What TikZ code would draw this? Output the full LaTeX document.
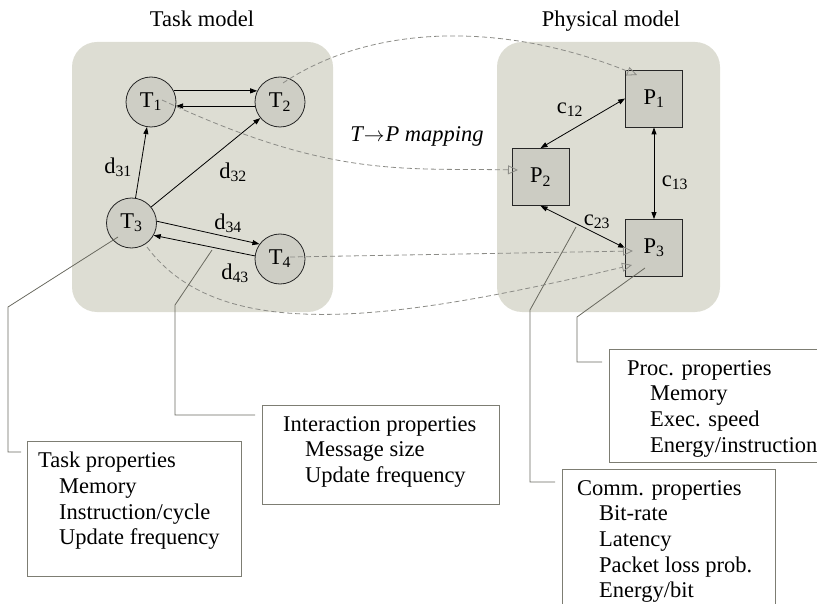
\documentclass[tikz,border=0pt]{standalone}
\usepackage{fontspec}
\setmainfont{Liberation Serif}
\usetikzlibrary{arrows.meta}
\definecolor{bgc}{RGB}{221,221,211}
\definecolor{nodec}{RGB}{206,206,197}
\definecolor{sqc}{RGB}{204,204,195}
\definecolor{dashc}{RGB}{140,140,135}
\definecolor{callc}{RGB}{105,105,95}
\definecolor{boxc}{RGB}{125,125,115}
\begin{document}
\begin{tikzpicture}[x=1pt,y=-1pt,
  every node/.style={font=\fontsize{22.5}{25.7}\selectfont},
  panel/.style={fill=bgc, draw=none, rounded corners=25pt},
  task/.style={circle, draw=black!85, fill=nodec, line width=0.8pt, minimum size=50pt, inner sep=0pt},
  proc/.style={rectangle, draw=black!85, fill=sqc, line width=0.8pt, minimum size=57pt, inner sep=0pt},
  link/.style={line width=0.8pt, -{Triangle[length=7pt,width=5pt]}},
  blink/.style={line width=0.8pt, {Triangle[length=7pt,width=5pt]}-{Triangle[length=7pt,width=5pt]}},
  mapping/.style={dashc, line width=0.8pt, dash pattern=on 5pt off 3pt, -{Triangle[open,length=10pt,width=9pt]}},
  callout/.style={callc, line width=0.8pt},
  propbox/.style={draw=boxc, line width=1.2pt, fill=white, inner sep=0pt, anchor=north west},
  proptext/.style={anchor=north west, align=left, inner sep=0pt},
]
\useasboundingbox (0,0) rectangle (817,604);

% panels
\fill[panel] (72,42) rectangle (333,312);
\fill[panel] (497,42) rectangle (720,312);

% titles
\node[anchor=base] (tasktitle) at (202,27) {Task model};
\node[anchor=base] (phystitle) at (611,27) {Physical model};

% task nodes
\node[task] (T1) at (151,102) {T\textsubscript{1}};
\node[task] (T2) at (280,102) {T\textsubscript{2}};
\node[task] (T3) at (131.5,223) {T\textsubscript{3}};
\node[task] (T4) at (280,259) {T\textsubscript{4}};

% processor nodes
\node[proc] (P1) at (654,98.5) {P\textsubscript{1}};
\node[proc] (P2) at (540.5,177) {P\textsubscript{2}};
\node[proc] (P3) at (654,248) {P\textsubscript{3}};

% task links
\draw[link] (T1.26) -- (T2.154);
\draw[link] (T2.189) -- (T1.-9);
\draw[link] (T3) -- (T1);
\draw[link] (T3) -- (T2);
\draw[link] (T3.4) -- (T4.144);
\draw[link] (T4.173) -- (T3.-29);

\node (d31) at (118,167) {d\textsubscript{31}};
\node (d32) at (233,172) {d\textsubscript{32}};
\node (d34) at (228,223) {d\textsubscript{34}};
\node (d43) at (235,273) {d\textsubscript{43}};

% processor links
\draw[blink] (P1.west) -- (P2.north);
\draw[blink] (P1.south) -- (P3.north);
\draw[blink] (P2.south) -- (P3.west);

\node (c12) at (570,110) {c\textsubscript{12}};
\node (c13) at (675,183) {c\textsubscript{13}};
\node (c23) at (597,222) {c\textsubscript{23}};

% mapping label
\node (maplabel) at (417,136) {\itshape T\kern1pt$\rightarrow$\kern1pt P mapping};

% mapping curves
\coordinate (m2s) at ([shift={(3,-19)}]T2.center);
\coordinate (m1e) at ([shift={(-17,-23.5)}]P1.center);
\draw[mapping] (m2s) .. controls (370,25) and (500,20) .. (m1e);

\coordinate (m1s) at ([shift={(11,-2)}]T1.center);
\coordinate (m2e) at ([shift={(-22.5,-7)}]P2.center);
\draw[mapping] (m1s) .. controls (330,178) and (400,168) .. (m2e);

\coordinate (m4s) at ([shift={(10,-2)}]T4.center);
\coordinate (m3e) at ([shift={(-21,3)}]P3.center);
\draw[mapping] (m4s) -- (m3e);

\coordinate (m3s) at ([shift={(15.5,24)}]T3.center);
\coordinate (m3f) at ([shift={(-22,17)}]P3.center);
\draw[mapping] (m3s) .. controls (220,345) and (390,322) .. (m3f);

% property boxes
\node[propbox, minimum width=214pt, minimum height=135pt] (taskbox) at (27,441) {};
\node[proptext] (tasktext) at (38,452) {Task properties\\\hspace*{21pt}Memory\\\hspace*{21pt}Instruction/cycle\\\hspace*{21pt}Update frequency};

\node[propbox, minimum width=237pt, minimum height=99pt] (intbox) at (262,405) {};
\node[proptext] (inttext) at (283,416) {Interaction properties\\\hspace*{22pt}Message size\\\hspace*{22pt}Update frequency};

\node[propbox, minimum width=240pt, minimum height=113pt] (procbox) at (609,349) {};
\node[proptext] (proctext) at (627,360) {Proc. properties\\\hspace*{23pt}Memory\\\hspace*{23pt}Exec. speed\\\hspace*{23pt}Energy/instruction};

\node[propbox, minimum width=213pt, minimum height=160pt] (commbox) at (562,469) {};
\node[proptext] (commtext) at (577,480) {Comm. properties\\\hspace*{22pt}Bit-rate\\\hspace*{22pt}Latency\\\hspace*{22pt}Packet loss prob.\\\hspace*{22pt}Energy/bit};

% callouts
\coordinate (cts) at ([shift={(-13.5,14)}]T3.center);
\coordinate (cte) at ([shift={(-6,11)}]taskbox.north west);
\draw[callout] (cts) -- (8,307) -- (8,452) -- (cte);

\coordinate (cis) at ([shift={(-68,-9)}]T4.center);
\coordinate (cie) at ([shift={(-7,10)}]intbox.north west);
\draw[callout] (cis) -- (175,305) -- (175,415) -- (cie);

\coordinate (cps) at ([shift={(-9,20)}]P3.center);
\coordinate (cpe) at ([shift={(-7,13)}]procbox.north west);
\draw[callout] (cps) -- (577,317) -- (577,362) -- (cpe);

\coordinate (ccs) at ([shift={(-21,5)}]c23.center);
\coordinate (cce) at ([shift={(-7,13)}]commbox.north west);
\draw[callout] (ccs) -- (530,310) -- (530,482) -- (cce);
\end{tikzpicture}
\end{document}
